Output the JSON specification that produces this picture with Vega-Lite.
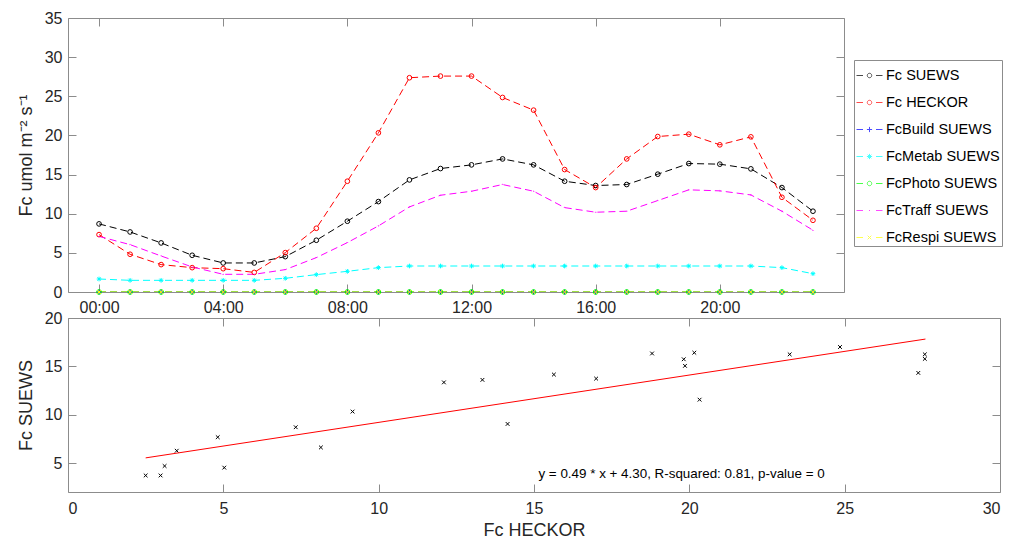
{
  "$schema": "https://vega.github.io/schema/vega-lite/v6.json",
  "padding": {"left": 16, "top": 9, "right": 2, "bottom": 2},
  "spacing": 26,
  "bounds": "flush",
  "datasets": {
    "hourly": [
      {"hour": 0, "suews": 8.70, "heckor": 7.33, "build": 0, "metab": 1.66, "photo": 0, "traff": 7.10, "respi": 0},
      {"hour": 1, "suews": 7.67, "heckor": 4.82, "build": 0, "metab": 1.49, "photo": 0, "traff": 6.05, "respi": 0},
      {"hour": 2, "suews": 6.27, "heckor": 3.50, "build": 0, "metab": 1.49, "photo": 0, "traff": 4.60, "respi": 0},
      {"hour": 3, "suews": 4.69, "heckor": 3.11, "build": 0, "metab": 1.49, "photo": 0, "traff": 3.20, "respi": 0},
      {"hour": 4, "suews": 3.71, "heckor": 2.98, "build": 0, "metab": 1.49, "photo": 0, "traff": 2.26, "respi": 0},
      {"hour": 5, "suews": 3.71, "heckor": 2.50, "build": 0, "metab": 1.49, "photo": 0, "traff": 2.26, "respi": 0},
      {"hour": 6, "suews": 4.52, "heckor": 5.03, "build": 0, "metab": 1.75, "photo": 0, "traff": 2.86, "respi": 0},
      {"hour": 7, "suews": 6.61, "heckor": 8.14, "build": 0, "metab": 2.22, "photo": 0, "traff": 4.39, "respi": 0},
      {"hour": 8, "suews": 9.04, "heckor": 14.15, "build": 0, "metab": 2.64, "photo": 0, "traff": 6.31, "respi": 0},
      {"hour": 9, "suews": 11.55, "heckor": 20.33, "build": 0, "metab": 3.11, "photo": 0, "traff": 8.44, "respi": 0},
      {"hour": 10, "suews": 14.32, "heckor": 27.37, "build": 0, "metab": 3.32, "photo": 0, "traff": 10.87, "respi": 0},
      {"hour": 11, "suews": 15.77, "heckor": 27.58, "build": 0, "metab": 3.32, "photo": 0, "traff": 12.36, "respi": 0},
      {"hour": 12, "suews": 16.24, "heckor": 27.58, "build": 0, "metab": 3.32, "photo": 0, "traff": 12.87, "respi": 0},
      {"hour": 13, "suews": 17.00, "heckor": 24.85, "build": 0, "metab": 3.32, "photo": 0, "traff": 13.73, "respi": 0},
      {"hour": 14, "suews": 16.24, "heckor": 23.23, "build": 0, "metab": 3.32, "photo": 0, "traff": 12.87, "respi": 0},
      {"hour": 15, "suews": 14.15, "heckor": 15.64, "build": 0, "metab": 3.32, "photo": 0, "traff": 10.78, "respi": 0},
      {"hour": 16, "suews": 13.60, "heckor": 13.34, "build": 0, "metab": 3.32, "photo": 0, "traff": 10.19, "respi": 0},
      {"hour": 17, "suews": 13.73, "heckor": 17.00, "build": 0, "metab": 3.32, "photo": 0, "traff": 10.32, "respi": 0},
      {"hour": 18, "suews": 15.05, "heckor": 19.86, "build": 0, "metab": 3.32, "photo": 0, "traff": 11.68, "respi": 0},
      {"hour": 19, "suews": 16.41, "heckor": 20.16, "build": 0, "metab": 3.32, "photo": 0, "traff": 13.05, "respi": 0},
      {"hour": 20, "suews": 16.33, "heckor": 18.80, "build": 0, "metab": 3.32, "photo": 0, "traff": 12.92, "respi": 0},
      {"hour": 21, "suews": 15.73, "heckor": 19.82, "build": 0, "metab": 3.32, "photo": 0, "traff": 12.40, "respi": 0},
      {"hour": 22, "suews": 13.34, "heckor": 12.10, "build": 0, "metab": 3.11, "photo": 0, "traff": 10.32, "respi": 0},
      {"hour": 23, "suews": 10.32, "heckor": 9.16, "build": 0, "metab": 2.34, "photo": 0, "traff": 7.89, "respi": 0}
    ],
    "fit": [
      {"x": 2.5, "y": 5.53},
      {"x": 27.6, "y": 17.82}
    ],
    "note": [
      {"x": 19.75, "y": 3.85, "label": "y = 0.49 * x + 4.30, R-squared: 0.81, p-value = 0"}
    ]
  },
  "vconcat": [
    {
      "width": 776,
      "height": 274,
      "data": {"name": "hourly"},
      "transform": [
        {"fold": ["suews", "heckor", "build", "metab", "photo", "traff", "respi"], "as": ["series", "value"]}
      ],
      "layer": [
        {
          "mark": {"type": "line", "strokeDash": [7, 4], "strokeWidth": 1, "clip": true},
          "encoding": {
            "x": {"field": "hour", "type": "quantitative", "scale": {"domain": [-1, 24], "nice": false},
              "axis": {"orient": "bottom", "values": [0, 4, 8, 12, 16, 20], "labelExpr": "(datum.value < 10 ? '0' : '') + datum.value + ':00'", "title": null, "labelPadding": 7}},
            "y": {"field": "value", "type": "quantitative", "scale": {"domain": [0, 35], "nice": false},
              "axis": {"orient": "left", "values": [0, 5, 10, 15, 20, 25, 30, 35], "title": "Fᴄ umol m⁻² s⁻¹", "titlePadding": 9}},
            "color": {"field": "series", "type": "nominal",
              "scale": {"domain": ["suews", "heckor", "build", "metab", "photo", "traff", "respi"], "range": ["#000000", "#ff0000", "#0000ff", "#00ffff", "#00ff00", "#ff00ff", "#ffff00"]},
              "legend": null}
          }
        },
        {
          "mark": {"type": "point", "filled": false, "strokeWidth": 1, "size": 22, "opacity": 1},
          "encoding": {
            "x": {"field": "hour", "type": "quantitative", "axis": {"orient": "top", "values": [0, 4, 8, 12, 16, 20], "labels": false, "title": null}},
            "y": {"field": "value", "type": "quantitative", "axis": {"orient": "right", "values": [0, 5, 10, 15, 20, 25, 30, 35], "labels": false, "title": null}},
            "color": {"field": "series", "type": "nominal",
              "scale": {"domain": ["suews", "heckor", "build", "metab", "photo", "traff", "respi"], "range": ["#000000", "#ff0000", "#0000ff", "#00ffff", "#00ff00", "#ff00ff", "#ffff00"]},
              "legend": null},
            "shape": {"field": "series", "type": "nominal",
              "scale": {"domain": ["suews", "heckor", "build", "metab", "photo", "traff", "respi"],
                "range": ["circle", "circle", "M-1,0H1M0,-1V1", "M-1,0H1M0,-1V1M-0.7,-0.7L0.7,0.7M-0.7,0.7L0.7,-0.7", "circle", "M-0.15,0A0.15,0.15 0 1,0 0.15,0A0.15,0.15 0 1,0 -0.15,0", "M-0.8,-0.8L0.8,0.8M-0.8,0.8L0.8,-0.8"]},
              "legend": null}
          }
        },
        {
          "transform": [{"filter": "datum.hour < 0"}],
          "mark": {"type": "point", "filled": false, "strokeWidth": 1},
          "encoding": {
            "x": {"field": "hour", "type": "quantitative", "axis": null},
            "y": {"field": "value", "type": "quantitative", "axis": null},
            "color": {"field": "series", "type": "nominal",
              "scale": {"domain": ["suews", "heckor", "build", "metab", "photo", "traff", "respi"], "range": ["#000000", "#ff0000", "#0000ff", "#00ffff", "#00ff00", "#ff00ff", "#ffff00"]},
              "legend": {"title": null, "orient": "none", "legendX": 786, "legendY": 42, "strokeColor": "#8c8c8c", "fillColor": "#ffffff", "padding": 2, "symbolSize": 676, "symbolStrokeWidth": 1, "symbolFillColor": "transparent", "labelFontSize": 14.5, "labelColor": "#000000", "labelOffset": 3, "rowPadding": 7, "labelExpr": "datum.label == 'suews' ? 'Fᴄ SUEWS' : datum.label == 'heckor' ? 'Fᴄ HECKOR' : datum.label == 'build' ? 'FᴄBuild SUEWS' : datum.label == 'metab' ? 'FᴄMetab SUEWS' : datum.label == 'photo' ? 'FᴄPhoto SUEWS' : datum.label == 'traff' ? 'FᴄTraff SUEWS' : 'FᴄRespi SUEWS'"}},
            "shape": {"field": "series", "type": "nominal",
              "scale": {"domain": ["suews", "heckor", "build", "metab", "photo", "traff", "respi"],
                "range": [
                  "M-1,0H-0.5M0.5,0H1M-0.17,0A0.17,0.17 0 1,0 0.17,0A0.17,0.17 0 1,0 -0.17,0",
                  "M-1,0H-0.5M0.5,0H1M-0.17,0A0.17,0.17 0 1,0 0.17,0A0.17,0.17 0 1,0 -0.17,0",
                  "M-1,0H-0.5M0.5,0H1M-0.2,0H0.2M0,-0.2V0.2",
                  "M-1,0H-0.5M0.5,0H1M-0.2,0H0.2M0,-0.2V0.2M-0.14,-0.14L0.14,0.14M-0.14,0.14L0.14,-0.14",
                  "M-1,0H-0.5M0.5,0H1M-0.17,0A0.17,0.17 0 1,0 0.17,0A0.17,0.17 0 1,0 -0.17,0",
                  "M-1,0H-0.5M0.5,0H1M-0.04,0H0.04",
                  "M-1,0H-0.5M0.5,0H1M-0.14,-0.14L0.14,0.14M-0.14,0.14L0.14,-0.14"
                ]},
              "legend": {"title": null}}
          }
        }
      ],
      "resolve": {"scale": {"color": "independent", "shape": "independent"}, "axis": {"x": "independent", "y": "independent"}}
    },
    {
      "width": 932,
      "height": 174,
      "layer": [
        {
          "data": {"name": "hourly"},
          "mark": {"type": "point", "shape": "M-1,-1L1,1M-1,1L1,-1", "size": 14, "filled": false, "color": "#000000", "strokeWidth": 1, "opacity": 1},
          "encoding": {
            "x": {"field": "heckor", "type": "quantitative", "scale": {"domain": [0, 30], "nice": false},
              "axis": {"orient": "bottom", "values": [0, 5, 10, 15, 20, 25, 30], "title": "Fᴄ HECKOR", "labelPadding": 8, "titlePadding": 5}},
            "y": {"field": "suews", "type": "quantitative", "scale": {"domain": [2, 20], "nice": false, "zero": false},
              "axis": {"orient": "left", "values": [5, 10, 15, 20], "title": "Fᴄ SUEWS", "titlePadding": 9}}
          }
        },
        {
          "data": {"name": "fit"},
          "mark": {"type": "line", "color": "#ff0000", "strokeWidth": 1},
          "encoding": {
            "x": {"field": "x", "type": "quantitative", "axis": {"orient": "top", "values": [0, 5, 10, 15, 20, 25, 30], "labels": false, "title": null}},
            "y": {"field": "y", "type": "quantitative", "axis": {"orient": "right", "values": [5, 10, 15, 20], "labels": false, "title": null}}
          }
        },
        {
          "data": {"name": "note"},
          "mark": {"type": "text", "fontSize": 13.4, "color": "#000000"},
          "encoding": {
            "x": {"field": "x", "type": "quantitative", "axis": null},
            "y": {"field": "y", "type": "quantitative", "axis": null},
            "text": {"field": "label"}
          }
        }
      ],
      "resolve": {"axis": {"x": "independent", "y": "independent"}}
    }
  ],
  "config": {
    "font": "Liberation Sans",
    "view": {"stroke": "#8c8c8c", "strokeWidth": 1},
    "axis": {"domain": false, "grid": false, "ticks": true, "tickSize": 8, "tickColor": "#8c8c8c", "tickWidth": 1, "zindex": 1, "offset": -8, "labelPadding": 6, "labelColor": "#262626", "labelFontSize": 16, "titleColor": "#262626", "titleFontSize": 18, "titleFontWeight": "normal"}
  }
}
